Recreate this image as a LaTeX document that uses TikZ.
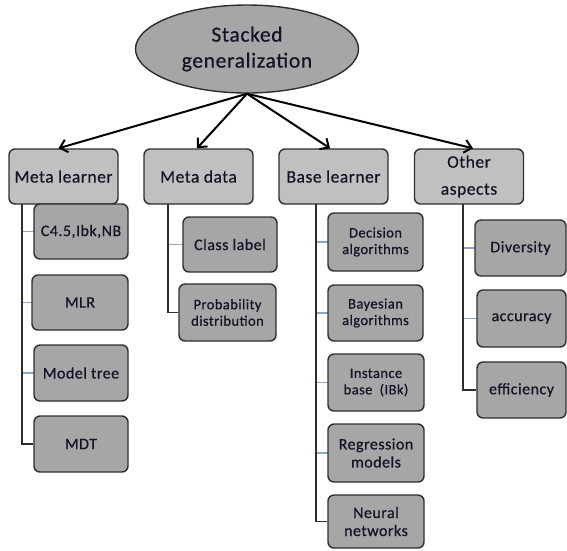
\documentclass[tikz,border=0pt]{standalone}
\usepackage{fontspec}
\setmainfont{Carlito}[LetterSpace=3,FakeBold=0.6]
\usetikzlibrary{arrows.meta,shapes.geometric}
\definecolor{topfill}{HTML}{C0C0C0}
\definecolor{kidfill}{HTML}{A6A6A6}
\definecolor{edge}{HTML}{2E2E2E}
\definecolor{stubc}{HTML}{8FA6C2}
\definecolor{txt}{HTML}{141428}
\begin{document}
\begin{tikzpicture}[x=1pt,y=-1pt,
  topbox/.style={draw=edge,line width=1.4pt,fill=topfill,rounded corners=6pt,
    minimum width=109pt,minimum height=55pt,inner sep=1pt,align=center,
    text=txt,font=\fontsize{17.5}{27}\selectfont},
  kid/.style={draw=edge,line width=1.4pt,fill=kidfill,rounded corners=6pt,
    inner sep=1pt,align=center,text=txt,font=\fontsize{16}{18}\selectfont},
  smallkid/.style={kid,font=\fontsize{14.5}{16.5}\selectfont},
  trunk/.style={draw=edge,line width=1.4pt},
  stub/.style={draw=stubc,line width=1.4pt},
  arr/.style={draw=black,line width=2pt,-{Straight Barb[length=7pt,width=13pt,line width=2pt]}}]
\useasboundingbox (0,0) rectangle (567,550);

% root
\node[ellipse,draw=edge,line width=1.4pt,fill=kidfill,minimum width=223pt,minimum height=88pt,
  inner sep=0pt,align=center,text=txt,font=\fontsize{21.5}{26}\selectfont]
  (root) at (247,49) {Stacked\\generalization};

% top level
\node[topbox] (ml) at (63.5,176.5) {Meta learner};
\node[topbox] (md) at (198.5,176.5) {Meta data};
\node[topbox] (bl) at (333.5,176.5) {Base learner};
\node[topbox] (oa) at (469,176.5) {Other\\aspects};

\draw[arr] (root.south) -- ([xshift=-5pt]ml.north);
\draw[arr] (root.south) -- ([xshift=-1.5pt]md.north);
\draw[arr] (root.south) -- ([xshift=-3.5pt]bl.north);
\draw[arr] (root.south) -- ([xshift=4pt]oa.north);

% trunk tops
\coordinate (mlv) at (22,204);
\coordinate (mdv) at (168,204);
\coordinate (blv) at (316,204);
\coordinate (oav) at (463,204);

% children centres
\coordinate (pc45) at (81,231.5);
\coordinate (pmlr) at (80,302.5);
\coordinate (pmt) at (81,373);
\coordinate (pmdt) at (81,444);
\coordinate (pcl) at (230,244.5);
\coordinate (ppd) at (227.5,312.5);
\coordinate (pdec) at (375.5,242);
\coordinate (pbay) at (375.5,313);
\coordinate (pins) at (376,382.5);
\coordinate (preg) at (376,453);
\coordinate (pnn) at (376,521.5);
\coordinate (pdiv) at (520.5,248);
\coordinate (pacc) at (521.5,318.5);
\coordinate (peff) at (521.5,390);

% stubs (behind boxes)
\draw[stub] (mlv |- pc45) -- (pc45);
\draw[stub] (mlv |- pmlr) -- (pmlr);
\draw[stub] (mlv |- pmt) -- (pmt);
\draw[stub] (mdv |- pcl) -- (pcl);
\draw[stub] (blv |- pdec) -- (pdec);
\draw[stub] (blv |- pbay) -- (pbay);
\draw[stub] (blv |- pins) -- (pins);
\draw[stub] (blv |- preg) -- (preg);
\draw[stub] (oav |- pdiv) -- (pdiv);
\draw[stub] (oav |- pacc) -- (pacc);

% children
\node[kid,minimum width=94pt,minimum height=55pt] (c45) at (pc45) {C4.5,Ibk,NB};
\node[kid,minimum width=96pt,minimum height=55pt] (mlr) at (pmlr) {MLR};
\node[kid,minimum width=94pt,minimum height=56pt] (mt) at (pmt) {Model tree};
\node[kid,minimum width=94pt,minimum height=56pt] (mdt) at (pmdt) {MDT};
\node[kid,minimum width=94pt,minimum height=55pt] (cl) at (pcl) {Class label};
\node[smallkid,minimum width=97pt,minimum height=57pt] (pd) at (ppd) {Probability\\distribution};
\node[smallkid,minimum width=95pt,minimum height=58pt] (dec) at (pdec) {Decision\\algorithms};
\node[smallkid,minimum width=95pt,minimum height=56pt] (bay) at (pbay) {Bayesian\\algorithms};
\node[smallkid,minimum width=96pt,minimum height=57pt] (ins) at (pins) {Instance\\base\enspace(IBk)};
\node[kid,minimum width=96pt,minimum height=58pt] (reg) at (preg) {Regression\\models};
\node[kid,minimum width=96pt,minimum height=53pt] (nn) at (pnn) {Neural\\networks};
\node[kid,minimum width=91pt,minimum height=56pt] (div) at (pdiv) {Diversity};
\node[kid,minimum width=89pt,minimum height=57pt] (acc) at (pacc) {accuracy};
\node[kid,minimum width=89pt,minimum height=56pt] (eff) at (peff) {efficiency};

% trunks
\draw[trunk] (mlv) |- (mdt.west);
\draw[trunk] (mdv) |- (pd.west);
\draw[trunk] (blv) |- (nn.west);
\draw[trunk] (oav) |- (eff.west);
\end{tikzpicture}
\end{document}
